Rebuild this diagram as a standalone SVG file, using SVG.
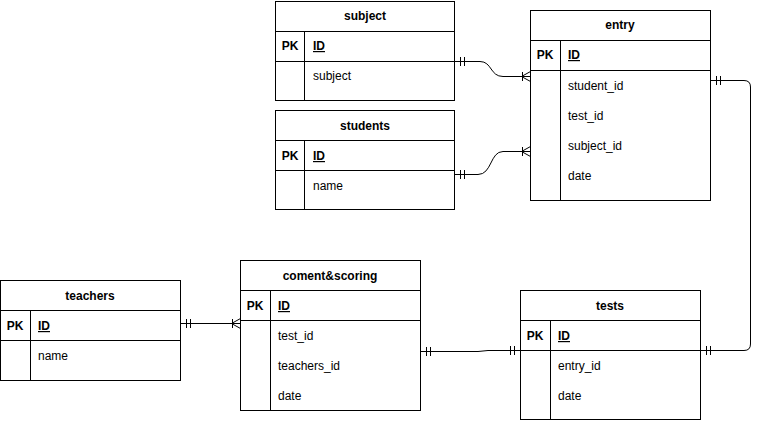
<svg xmlns="http://www.w3.org/2000/svg" width="760" height="421" viewBox="0 0 760 421">
<style>
.box{fill:#fff;stroke:#000;stroke-width:1}
.ln{stroke:#000;stroke-width:1;fill:none}
.t{font-family:"Liberation Sans",Arial,sans-serif;font-size:12px;fill:#000}
.title{font-weight:bold;text-anchor:middle}
.pk{font-weight:bold;text-anchor:middle}
.id{font-weight:bold;text-decoration:underline}
.conn{stroke:#000;stroke-width:1;fill:none;marker-start:url(#one)}
.many{marker-end:url(#many)}
.oneEnd{marker-end:url(#one)}
</style>
<defs>
<marker id="one" markerUnits="userSpaceOnUse" orient="auto-start-reverse" markerWidth="20" markerHeight="20" refX="0" refY="0" viewBox="-15 -10 20 20" overflow="visible">
<path d="M-6,-4.5 L-6,4.5 M-10,-4.5 L-10,4.5" stroke="#000" fill="none"/>
</marker>
<marker id="many" markerUnits="userSpaceOnUse" orient="auto-start-reverse" markerWidth="20" markerHeight="20" refX="0" refY="0" viewBox="-15 -10 20 20" overflow="visible">
<path d="M-8,-4.5 L-8,4.5 M-9,0 L0,-5 M-9,0 L0,5" stroke="#000" fill="none"/>
</marker>
</defs>

<g id="connectors">
<path class="conn many" d="M454.5,61.5 L480,61.5 C492,61.5 490,76.5 503,76.5 L530.5,76.5"/>
<path class="conn many" d="M454.5,174.5 L478,174.5 C492,174.5 490,151.5 503,151.5 L530.5,151.5"/>
<path class="conn oneEnd" d="M710.5,80.5 L744,80.5 Q750.5,80.5 750.5,87 L750.5,344 Q750.5,350.5 744,350.5 L700.5,350.5"/>
<path class="conn oneEnd" d="M420.5,351.5 L478,351.5 L488,350.5 L520.5,350.5"/>
<path class="conn many" d="M180.5,323.5 L240.5,323.5"/>
</g>

<g id="subject">
<rect class="box" x="275.5" y="1.5" width="179" height="99"/>
<path class="ln" d="M275.5,31.5 H454.5 M275.5,61.5 H454.5 M304.5,31.5 V100.5"/>
<text class="t title" x="365" y="20">subject</text>
<text class="t pk" x="290" y="50">PK</text>
<text class="t id" x="313" y="50">ID</text>
<text class="t" x="313" y="80">subject</text>
</g>

<g id="students">
<rect class="box" x="275.5" y="110.5" width="179" height="99"/>
<path class="ln" d="M275.5,140.5 H454.5 M275.5,170.5 H454.5 M304.5,140.5 V209.5"/>
<text class="t title" x="365" y="130">students</text>
<text class="t pk" x="290" y="160">PK</text>
<text class="t id" x="313" y="160">ID</text>
<text class="t" x="313" y="190">name</text>
</g>

<g id="entry">
<rect class="box" x="530.5" y="10.5" width="180" height="190"/>
<path class="ln" d="M530.5,40.5 H710.5 M530.5,70.5 H710.5 M560.5,40.5 V200.5"/>
<text class="t title" x="620" y="29">entry</text>
<text class="t pk" x="545" y="59">PK</text>
<text class="t id" x="568" y="59">ID</text>
<text class="t" x="568" y="90">student_id</text>
<text class="t" x="568" y="120">test_id</text>
<text class="t" x="568" y="150">subject_id</text>
<text class="t" x="568" y="180">date</text>
</g>

<g id="teachers">
<rect class="box" x="0.5" y="280.5" width="180" height="100"/>
<path class="ln" d="M0.5,310.5 H180.5 M0.5,340.5 H180.5 M30.5,310.5 V380.5"/>
<text class="t title" x="90" y="300">teachers</text>
<text class="t pk" x="15" y="330">PK</text>
<text class="t id" x="38" y="330">ID</text>
<text class="t" x="38" y="360">name</text>
</g>

<g id="coment_scoring">
<rect class="box" x="240.5" y="260.5" width="180" height="150"/>
<path class="ln" d="M240.5,290.5 H420.5 M240.5,320.5 H420.5 M270.5,290.5 V410.5"/>
<text class="t title" x="330" y="280">coment&amp;scoring</text>
<text class="t pk" x="255" y="310">PK</text>
<text class="t id" x="278" y="310">ID</text>
<text class="t" x="278" y="340">test_id</text>
<text class="t" x="278" y="370">teachers_id</text>
<text class="t" x="278" y="400">date</text>
</g>

<g id="tests">
<rect class="box" x="520.5" y="290.5" width="180" height="129"/>
<path class="ln" d="M520.5,320.5 H700.5 M520.5,350.5 H700.5 M550.5,320.5 V419.5"/>
<text class="t title" x="610" y="310">tests</text>
<text class="t pk" x="535" y="340">PK</text>
<text class="t id" x="558" y="340">ID</text>
<text class="t" x="558" y="370">entry_id</text>
<text class="t" x="558" y="400">date</text>
</g>
</svg>
